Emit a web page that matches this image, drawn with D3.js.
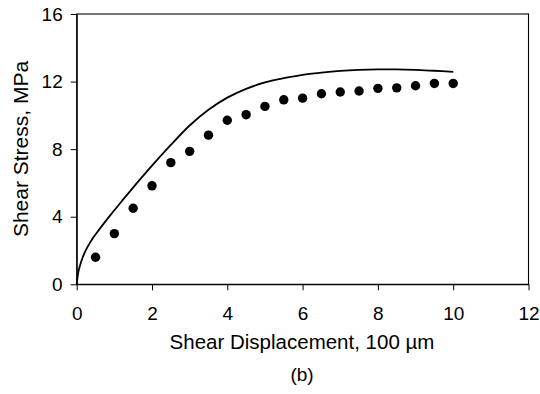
<!DOCTYPE html>
<html>
<head>
<meta charset="utf-8">
<script src="https://cdn.jsdelivr.net/npm/d3@7/dist/d3.min.js"></script>
<style>
  html, body { margin: 0; padding: 0; background: #fff; }
  svg { display: block; font-family: "Liberation Sans", Arial, sans-serif; }
</style>
</head>
<body>
<svg id="chart" width="540" height="394"></svg>
<script>
// Data
const pointX = [0.5, 1.0, 1.5, 2.0, 2.5, 3.0, 3.5, 4.0, 4.5, 5.0, 5.5, 6.0, 6.5, 7.0, 7.5, 8.0, 8.5, 9.0, 9.5, 10.0];
const pointY = [1.6, 3.0, 4.5, 5.83, 7.2, 7.87, 8.83, 9.71, 10.04, 10.53, 10.92, 11.02, 11.28, 11.38, 11.44, 11.6, 11.63, 11.75, 11.89, 11.89];
const curveX = [0, 0.05, 0.1, 0.16, 0.25, 0.35, 0.45, 0.6, 0.8, 1.0, 1.2, 1.42, 2.0, 2.5, 3.0, 3.5, 4.0, 4.5, 5.0, 5.5, 6.0, 6.5, 7.0, 7.5, 8.0, 8.5, 9.0, 9.5, 10.0];
const curveY = [0, 0.8, 1.2, 1.6, 2.05, 2.45, 2.8, 3.25, 3.83, 4.38, 4.93, 5.52, 7.02, 8.25, 9.4, 10.33, 11.05, 11.57, 11.95, 12.2, 12.4, 12.53, 12.63, 12.69, 12.72, 12.72, 12.69, 12.64, 12.58];
const xTicks = [0, 2, 4, 6, 8, 10, 12];
const yTicks = [0, 4, 8, 12, 16];
const xTitle = "Shear Displacement, 100 \u00b5m";
const yTitle = "Shear Stress, MPa";
const caption = "(b)";

const svg = d3.select("#chart");
const pL = 76.7, pR = 528.5, pT = 14, pB = 284.3;

const x = d3.scaleLinear().domain([0, 12]).range([pL, pR]);
const y = d3.scaleLinear().domain([0, 16]).range([pB, pT]);

// Frame
svg.append("rect")
  .attr("x", pL).attr("y", pT)
  .attr("width", pR - pL).attr("height", pB - pT)
  .attr("fill", "none").attr("stroke", "#000").attr("stroke-width", 1.1);

// Axes
const xAxis = svg.append("g")
  .attr("transform", `translate(0,${pB})`)
  .call(d3.axisBottom(x).tickValues(xTicks).tickSize(6).tickSizeOuter(0).tickPadding(16).tickFormat(d3.format("d")));
const yAxis = svg.append("g")
  .attr("transform", `translate(${pL},0)`)
  .call(d3.axisLeft(y).tickValues(yTicks).tickSize(6).tickSizeOuter(0).tickPadding(8).tickFormat(d3.format("d")));

[xAxis, yAxis].forEach(g => {
  g.select(".domain").attr("stroke", "#000").attr("stroke-width", 1.1);
  g.selectAll(".tick line").attr("stroke", "#000").attr("stroke-width", 1);
  g.selectAll(".tick text").attr("fill", "#000").style("font-size", "19px")
    .style("font-family", "'Liberation Sans', Arial, sans-serif");
});

// Curve
const line = d3.line()
  .x((d, i) => x(curveX[i]))
  .y((d, i) => y(curveY[i]))
  .curve(d3.curveCatmullRom.alpha(0.5));
svg.append("path")
  .datum(curveY)
  .attr("d", line)
  .attr("fill", "none")
  .attr("stroke", "#000")
  .attr("stroke-width", 1.8);

// Points
svg.append("g").selectAll("circle")
  .data(pointY)
  .join("circle")
  .attr("cx", (d, i) => x(pointX[i]))
  .attr("cy", d => y(d))
  .attr("r", 4.7)
  .attr("fill", "#000");

// Titles
svg.append("text")
  .attr("x", 302)
  .attr("y", 349)
  .attr("text-anchor", "middle")
  .style("font-size", "20.5px")
  .text(xTitle);

svg.append("text")
  .attr("transform", `translate(28,149) rotate(-90)`)
  .attr("text-anchor", "middle")
  .style("font-size", "21px")
  .text(yTitle);

svg.append("text")
  .attr("x", 302)
  .attr("y", 381)
  .attr("text-anchor", "middle")
  .style("font-size", "19px")
  .text(caption);
</script>
</body>
</html>
